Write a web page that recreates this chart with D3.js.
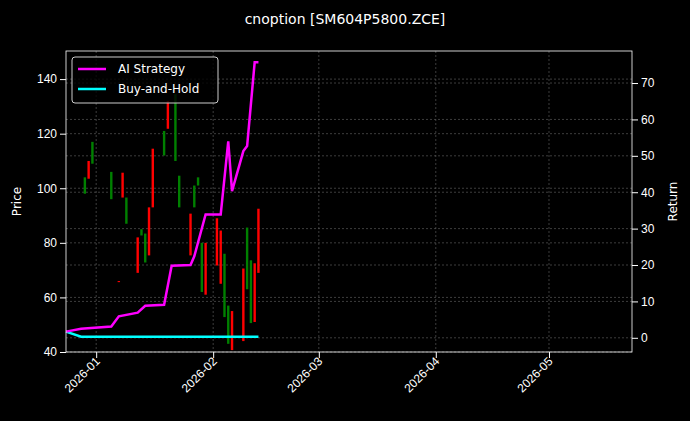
<!DOCTYPE html>
<html><head><meta charset="utf-8">
<script src="https://cdn.jsdelivr.net/npm/d3@7"></script>
<style>body{margin:0;background:#000}svg{font-family:"DejaVu Sans",sans-serif}</style>
</head><body><svg id="c" width="690" height="421"></svg>
<script>
// candles: date, open, close
var candleDates = ['2025-12-29','2025-12-30','2025-12-31','2026-01-05','2026-01-07','2026-01-08','2026-01-09','2026-01-12','2026-01-13','2026-01-14','2026-01-15','2026-01-16','2026-01-19','2026-01-20','2026-01-22','2026-01-23','2026-01-26','2026-01-27','2026-01-28','2026-01-29','2026-01-30','2026-02-02','2026-02-03','2026-02-04','2026-02-05','2026-02-06','2026-02-09','2026-02-10','2026-02-11','2026-02-12','2026-02-13'];
var openVals  = [98, 110, 109, 96, 66, 105.7, 87, 82, 82.7, 72.8, 93, 114.5, 112, 132, 110, 93, 90.7, 93, 101, 62, 80, 89, 84.5, 52.8, 43, 55, 70.6, 63, 50.6, 72.5, 92.5];
var closeVals = [104, 103.5, 117, 106, 65.6, 96.6, 96.6, 69, 85, 83.4, 75.4, 93, 121, 121.8, 134.5, 104.6, 75.4, 101, 104, 80, 61, 71.7, 65, 76, 57, 40.7, 44, 85.6, 73.6, 51, 69];
// return lines
var lineDates = ['2025-12-24','2025-12-28','2026-01-05','2026-01-07','2026-01-12','2026-01-14','2026-01-19','2026-01-21','2026-01-26','2026-01-27','2026-01-30','2026-02-03','2026-02-05','2026-02-06','2026-02-09','2026-02-10','2026-02-12','2026-02-13'];
var aiReturn  = [1.7, 2.5, 3.1, 5.9, 6.9, 8.8, 9.1, 19.8, 20, 22.4, 33.9, 33.9, 54, 40.3, 51.3, 52.7, 75.7, 75.7];
var bhReturn  = [1.7, 0.3, 0.3, 0.3, 0.3, 0.3, 0.3, 0.3, 0.3, 0.3, 0.3, 0.3, 0.3, 0.3, 0.3, 0.3, 0.3, 0.3];
var priceTicks = [40, 60, 80, 100, 120, 140];
var returnTicks = [0, 10, 20, 30, 40, 50, 60, 70];
var xTicks = ['2026-01-01','2026-02-01','2026-03-01','2026-04-01','2026-05-01'];

var parse = d3.utcParse('%Y-%m-%d');
var L = 66, R = 632, T = 51, B = 352;
var svg = d3.select('#c');
svg.append('rect').attr('width', 690).attr('height', 421).attr('fill', '#000');

var x = d3.scaleUtc().domain([parse('2025-12-24'), parse('2026-05-23')]).range([L, R]);
var yP = d3.scaleLinear().domain([40, 150.3]).range([B, T]);
var yR = d3.scaleLinear().domain([-3.9, 78.8]).range([B, T]);

var grid = svg.append('g').attr('stroke', '#666').attr('stroke-dasharray', '2,2').attr('stroke-width', 0.6);
xTicks.forEach(function(d) { grid.append('line').attr('x1', x(parse(d))).attr('x2', x(parse(d))).attr('y1', T).attr('y2', B); });
priceTicks.forEach(function(d) { grid.append('line').attr('x1', L).attr('x2', R).attr('y1', yP(d)).attr('y2', yP(d)); });
returnTicks.forEach(function(d) { grid.append('line').attr('x1', L).attr('x2', R).attr('y1', yR(d)).attr('y2', yR(d)); });

svg.append('g').selectAll('rect').data(candleDates).enter().append('rect')
  .attr('x', function(d) { return x(parse(d)) - 1.2; })
  .attr('width', 2.4)
  .attr('y', function(d, i) { return yP(Math.max(openVals[i], closeVals[i])); })
  .attr('height', function(d, i) { return Math.max(1, Math.abs(yP(openVals[i]) - yP(closeVals[i]))); })
  .attr('fill', function(d, i) { return closeVals[i] >= openVals[i] ? '#008000' : '#ff0000'; });

function line(vals) {
  return d3.line().x(function(d) { return x(parse(d)); }).y(function(d, i) { return yR(vals[i]); })(lineDates);
}
svg.append('path').attr('d', line(bhReturn)).attr('fill', 'none').attr('stroke', '#00ffff').attr('stroke-width', 2.5);
svg.append('path').attr('d', line(aiReturn)).attr('fill', 'none').attr('stroke', '#ff00ff').attr('stroke-width', 2.5);

svg.append('rect').attr('x', L).attr('y', T).attr('width', R - L).attr('height', B - T).attr('fill', 'none').attr('stroke', '#fff').attr('stroke-width', 0.8);

var ax = svg.append('g').attr('transform', 'translate(0,' + B + ')')
  .call(d3.axisBottom(x).tickValues(xTicks.map(parse)).tickFormat(d3.utcFormat('%Y-%m')).tickSizeOuter(0));
var al = svg.append('g').attr('transform', 'translate(' + L + ',0)').call(d3.axisLeft(yP).tickValues(priceTicks).tickSizeOuter(0));
var ar = svg.append('g').attr('transform', 'translate(' + R + ',0)').call(d3.axisRight(yR).tickValues(returnTicks).tickSizeOuter(0));
[ax, al, ar].forEach(function(g) {
  g.select('.domain').remove();
  g.selectAll('line').attr('stroke', '#fff');
  g.selectAll('text').attr('fill', '#fff').style('font-size', '12px');
});
ax.selectAll('text').attr('y', 0).attr('dy', 0)
  .attr('transform', 'translate(4,10) rotate(-45)').attr('text-anchor', 'end');

svg.append('text').attr('x', 345).attr('y', 24).attr('text-anchor', 'middle').attr('fill', '#fff').style('font-size', '14px').text('cnoption [SM604P5800.ZCE]');
svg.append('text').attr('transform', 'translate(21,' + (T + B) / 2 + ') rotate(-90)').attr('text-anchor', 'middle').attr('fill', '#fff').style('font-size', '12px').text('Price');
svg.append('text').attr('transform', 'translate(677,' + (T + B) / 2 + ') rotate(-90)').attr('text-anchor', 'middle').attr('fill', '#fff').style('font-size', '12px').text('Return');

var lg = svg.append('g').attr('transform', 'translate(72,57)');
lg.append('rect').attr('width', 146).attr('height', 46).attr('rx', 3).attr('fill', '#000').attr('fill-opacity', 0.8).attr('stroke', '#ccc');
[['AI Strategy', '#ff00ff'], ['Buy-and-Hold', '#00ffff']].forEach(function(d, i) {
  lg.append('line').attr('x1', 6).attr('x2', 34).attr('y1', 12 + i * 20).attr('y2', 12 + i * 20).attr('stroke', d[1]).attr('stroke-width', 2.5);
  lg.append('text').attr('x', 46).attr('y', 16 + i * 20).attr('fill', '#fff').style('font-size', '12px').text(d[0]);
});
</script></body></html>
